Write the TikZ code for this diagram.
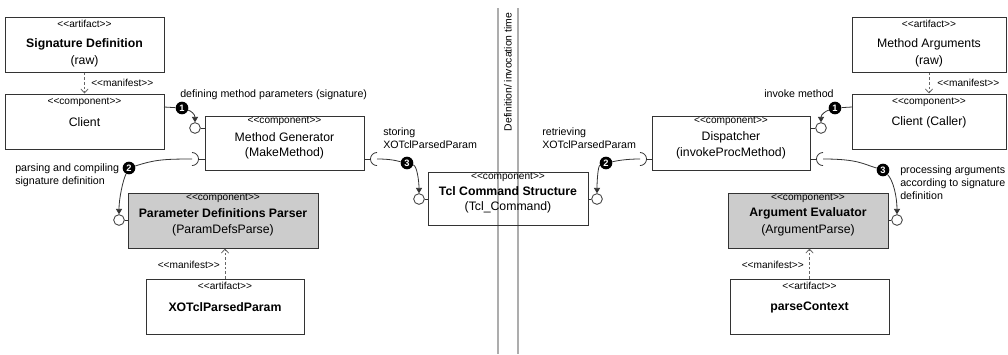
\documentclass[tikz,border=0pt]{standalone}
\usepackage{fontspec}
\setmainfont{Liberation Sans}[Ligatures=TeXOff]
\usetikzlibrary{arrows.meta,fit}

\definecolor{edge}{gray}{0.2}
\definecolor{shade}{gray}{0.8}
\definecolor{divider}{gray}{0.68}

\begin{document}
\begin{tikzpicture}[x=0.75pt,y=-0.75pt,
  box/.style={draw=edge, line width=0.75pt, inner sep=0pt},
  shaded/.style={box, fill=shade},
  stereo/.style={font=\fontsize{7.6}{8}\selectfont, inner sep=0pt},
  title/.style={font=\fontsize{9.2}{10}\selectfont, inner sep=0pt},
  btitle/.style={font=\bfseries\fontsize{9.2}{10}\selectfont, inner sep=0pt},
  note/.style={font=\fontsize{8}{9.75}\selectfont, inner sep=0pt, align=left},
  badge/.style={circle, fill=black, text=white, inner sep=0pt, minimum size=9.5pt,
    font=\bfseries\fontsize{7}{7}\selectfont},
  port/.style={circle, draw=edge, fill=white, line width=0.6pt, inner sep=0pt, minimum size=8pt},
  wire/.style={draw=edge, line width=0.6pt},
  call/.style={wire, -{Triangle[length=4pt,width=4.5pt]}},
  manifest/.style={draw=black!60, line width=0.6pt, dash pattern=on 2pt off 1.5pt,
    -{Straight Barb[length=3pt,width=5.5pt]}},
]
\useasboundingbox (0,0) rectangle (1008,354);
\fill[white] (0,0) rectangle (1008,354);

% ---------- separator between definition time and invocation time
\draw[divider, line width=1.3pt] (498,8) -- (498,354);
\draw[divider, line width=1.3pt] (518,8) -- (518,354);
\node[rotate=90, font=\fontsize{7.8}{8}\selectfont, inner sep=0pt] (phase) at (508,72) {Definition/ invocation time};

% ---------- definition side
\node[box, fit={(5,17) (164,72)}] (sigdef) {};
\node[stereo] at (84.5,24) {<<artifact>>};
\node[btitle] at (84.5,44) {Signature Definition};
\node[title] at (84.5,61) {(raw)};

\node[box, fit={(5,94) (164,149)}] (client) {};
\node[stereo] at (84.5,102) {<<component>>};
\node[title] at (84.5,122) {Client};

\node[box, fit={(205,116) (364,170)}] (mg) {};
\node[stereo] at (284.5,121) {<<component>>};
\node[title] at (284.5,137) {Method Generator};
\node[title] at (284.5,153) {(MakeMethod)};

\node[shaded, fit={(128,193) (318,248)}] (parser) {};
\node[stereo] at (223,198) {<<component>>};
\node[btitle] at (223,213) {Parameter Definitions Parser};
\node[title] at (223,230) {(ParamDefsParse)};

\node[box, fit={(146,279) (304,334)}] (xotcl) {};
\node[stereo] at (225,286) {<<artifact>>};
\node[btitle] at (225,307) {XOTclParsedParam};

\node[box, fit={(428,172) (588,225)}] (tcl) {};
\node[stereo] at (508,177.5) {<<component>>};
\node[btitle] at (508,191) {Tcl Command Structure};
\node[title] at (508,207) {(Tcl\_Command)};

% ---------- invocation side
\node[box, fit={(852,17) (1006,72)}] (margs) {};
\node[stereo] at (929,24) {<<artifact>>};
\node[title] at (929,44) {Method Arguments};
\node[title] at (929,61) {(raw)};

\node[box, fit={(852,94) (1006,149)}] (caller) {};
\node[stereo] at (929,102) {<<component>>};
\node[title] at (929,122) {Client (Caller)};

\node[box, fit={(652,116) (810,170)}] (disp) {};
\node[stereo] at (731,121) {<<component>>};
\node[title] at (731,137) {Dispatcher};
\node[title] at (731,153) {(invokeProcMethod)};

\node[shaded, fit={(728,193) (888,248)}] (ae) {};
\node[stereo] at (808,198) {<<component>>};
\node[btitle] at (808,213) {Argument Evaluator};
\node[title] at (808,230) {(ArgumentParse)};

\node[box, fit={(730,279) (889,334)}] (pc) {};
\node[stereo] at (809.5,286) {<<artifact>>};
\node[btitle] at (809.5,307) {parseContext};

% ---------- manifest dependencies
\draw[manifest] (sigdef.south) -- (client.north);
\node[stereo, anchor=west] (manL) at (91,83) {<<manifest>>};
\draw[manifest] (margs.south) -- (caller.north);
\node[stereo, anchor=west] (manR) at (937,83) {<<manifest>>};
\draw[manifest] (xotcl.north) -- (xotcl.north |- parser.south);
\node[stereo, anchor=east] (manP) at (220,265) {<<manifest>>};
\draw[manifest] (pc.north) -- (pc.north |- ae.south);
\node[stereo, anchor=east] (manA) at (804,265) {<<manifest>>};

% ---------- provided interfaces (lollipops)
\node[port] (pMG) at (195,128) {};
\draw[wire] (pMG.east) -- (pMG.east -| mg.west);
\node[port] (pPar) at (119,220) {};
\draw[wire] (pPar.east) -- (pPar.east -| parser.west);
\node[port] (pTclL) at (419,199) {};
\draw[wire] (pTclL.east) -- (pTclL.east -| tcl.west);
\node[port] (pTclR) at (597,199) {};
\draw[wire] (pTclR.west) -- (pTclR.west -| tcl.east);
\node[port] (pDisp) at (821,128) {};
\draw[wire] (pDisp.west) -- (pDisp.west -| disp.east);
\node[port] (pAE) at (897,220) {};
\draw[wire] (pAE.west) -- (pAE.west -| ae.east);

% ---------- required interfaces (sockets)
\coordinate (sMGl) at (192,159);
\draw[wire] (sMGl) ++(0,-6.5) arc[start angle=90, end angle=-90, radius=4.9pt];
\draw[wire] ([xshift=4.9pt]sMGl) -- (sMGl -| mg.west);
\coordinate (sMGr) at (377,159);
\draw[wire] (sMGr) ++(0,-6.5) arc[start angle=90, end angle=270, radius=4.9pt];
\draw[wire] ([xshift=-4.9pt]sMGr) -- (sMGr -| mg.east);
\coordinate (sDl) at (640,159);
\draw[wire] (sDl) ++(0,-6.5) arc[start angle=90, end angle=-90, radius=4.9pt];
\draw[wire] ([xshift=4.9pt]sDl) -- (sDl -| disp.west);
\coordinate (sDr) at (823,159);
\draw[wire] (sDr) ++(0,-6.5) arc[start angle=90, end angle=270, radius=4.9pt];
\draw[wire] ([xshift=-4.9pt]sDr) -- (sDr -| disp.east);

% ---------- numbered interactions
\node[badge] (b1L) at (182,108) {1};
\node[badge] (b2L) at (129,168) {2};
\node[badge] (b3L) at (407,163) {3};
\node[badge] (b2R) at (606,163) {2};
\node[badge] (b1R) at (835,108) {1};
\node[badge] (b3R) at (883,170) {3};

\coordinate (cl1) at (164,107);
\draw[wire] (cl1) -- (b1L);
\draw[call] (b1L) .. controls +(9,3) and +(0,-8) .. (pMG.north);

\draw[wire] (sMGl) .. controls +(-30,0) and +(25,-8) .. (b2L);
\draw[call] (b2L) .. controls +(-6,12) and +(0,-16) .. (pPar.north);

\draw[wire] (sMGr) .. controls +(15,0) and +(-10,-2) .. (b3L);
\draw[call] (b3L) .. controls +(10,3) and +(0,-12) .. (pTclL.north);

\draw[wire] (sDl) .. controls +(-15,0) and +(10,-2) .. (b2R);
\draw[call] (b2R) .. controls +(-8,3) and +(0,-12) .. (pTclR.north);

\coordinate (cr1) at (852,107);
\draw[wire] (cr1) -- (b1R);
\draw[call] (b1R) .. controls +(-9,3) and +(0,-8) .. (pDisp.north);

\draw[wire] (sDr) .. controls +(35,0) and +(-20,-6) .. (b3R);
\draw[call] (b3R) .. controls +(10,10) and +(0,-18) .. (pAE.north);

% ---------- interaction labels (anchored at the baseline of the last line)
\node[note, anchor=base west] (n1L) at (180,97) {defining method parameters (signature)};
\node[note, anchor=base west] (n2L) at (15,184) {parsing and compiling\\signature definition};
\node[note, anchor=base west] (n3L) at (383,148) {storing\\XOTclParsedParam};
\node[note, anchor=base west] (n2R) at (542,148) {retrieving\\XOTclParsedParam};
\node[note, anchor=base west] (n1R) at (764,97) {invoke method};
\node[note, anchor=base west] (n3R) at (900,199) {processing arguments\\according to signature\\definition};
\end{tikzpicture}
\end{document}
